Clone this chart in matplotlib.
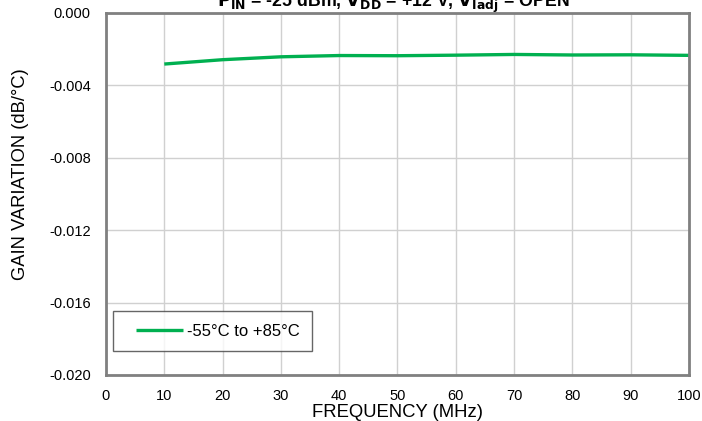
import matplotlib
matplotlib.use("Agg")
import matplotlib.pyplot as plt
from matplotlib.legend_handler import HandlerLine2D

plt.rcParams['font.family'] = ['Liberation Sans', 'DejaVu Sans']

freq_mhz = [10, 20, 30, 40, 50, 60, 70, 80, 90, 100]
gain_var = [-0.00282, -0.00258, -0.00242, -0.00235, -0.00236,
            -0.00233, -0.00229, -0.00232, -0.00231, -0.00234]
series_label = "-55°C to +85°C"
x_ticks = [0, 10, 20, 30, 40, 50, 60, 70, 80, 90, 100]
y_ticks = [0.000, -0.004, -0.008, -0.012, -0.016, -0.020]

fig = plt.figure(figsize=(7.02, 4.21), dpi=100)
ax = fig.add_axes([106/702, 1 - 375/421, (689-106)/702, (375-13)/421])

line, = ax.plot(freq_mhz, gain_var, color='#00b050', lw=2.4,
                solid_capstyle='butt', label=series_label)

ax.set_xlim(0, 100)
ax.set_ylim(-0.020, 0.000)
ax.set_xticks(x_ticks)
ax.set_yticks(y_ticks)
ax.set_yticklabels([f"{v:.3f}" for v in y_ticks])
ax.tick_params(length=0, labelsize=10.5)
ax.tick_params(axis='y', pad=11)
ax.tick_params(axis='x', pad=10)
ax.grid(True, color='#d0d0d0', lw=1)
ax.set_axisbelow(True)
for s in ax.spines.values():
    s.set_color('#808080')
    s.set_linewidth(2)

ax.set_xlabel("FREQUENCY (MHz)", fontsize=13.3, labelpad=1)
ax.set_ylabel("GAIN VARIATION (dB/°C)", fontsize=13.2)
ax.yaxis.set_label_coords(-0.132, 0.555)

leg = ax.legend(loc='lower left', bbox_to_anchor=(0.012, 0.066), frameon=True,
                fancybox=False, fontsize=12, handlelength=3.48,
                borderpad=0.75, handletextpad=0.2, borderaxespad=0,
                handler_map={line: HandlerLine2D(xpad=0.66)})
leg.get_frame().set_edgecolor('#404040')
leg.get_frame().set_linewidth(1)

fig.text(393/702, 1 - 7/421,
         r"$\mathbf{P_{IN}}$ = -25 dBm, $\mathbf{V_{DD}}$ = +12 V, $\mathbf{V_{Iadj}}$ = OPEN",
         ha='center', va='baseline', fontsize=12.8, fontweight='bold')

fig.savefig("out.png", dpi=100)
